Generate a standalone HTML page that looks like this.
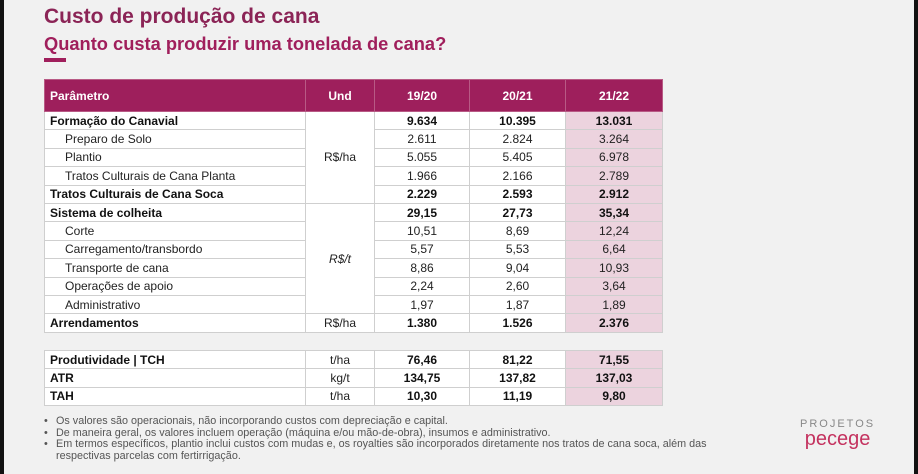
<!DOCTYPE html>
<html><head><meta charset="utf-8"><style>
body{margin:0;width:918px;height:474px;overflow:hidden;background:#f1f1f1;font-family:"Liberation Sans","DejaVu Sans",sans-serif;position:relative}
.edgeL{position:absolute;left:0;top:0;width:4px;height:474px;background:#111}
.edgeR{position:absolute;right:0;top:0;width:4px;height:474px;background:#111}
h1{position:absolute;left:44px;top:5px;margin:0;font-size:21px;color:#8b2456;font-weight:bold}
h2{position:absolute;left:44px;top:33px;margin:0;font-size:18.3px;color:#a01f5c;font-weight:bold}
.bar{position:absolute;left:44px;top:58px;width:22px;height:4px;background:#a01f5c}
table{position:absolute;left:44px;border-collapse:collapse;font-size:12px;color:#222;table-layout:fixed}
td,th{border:1px solid #cfcfcf;padding:0 5px;height:17.4px;background:#fff;white-space:nowrap;overflow:hidden}
th{background:#9e1f5c;color:#fff;height:31px;border-color:#b85a85;font-size:12px}
th.l{text-align:left}
td.c{text-align:center}
td.p{background:#ecd3de}
.b{font-weight:bold;color:#111}
.i{padding-left:20px}
.notes{position:absolute;left:44px;top:416px;font-size:10.8px;color:#555;line-height:11.5px}
.notes div{padding-left:12px;position:relative}
.notes div span{position:absolute;left:0}
.logo{position:absolute;left:800px;top:417px;text-align:center;line-height:15px}
</style></head><body>
<div class="edgeL"></div><div class="edgeR"></div>
<h1>Custo de produção de cana</h1>
<h2>Quanto custa produzir uma tonelada de cana?</h2>
<div class="bar"></div>
<table style="top:79px;width:618px">
<colgroup><col style="width:261px"><col style="width:69px"><col style="width:95px"><col style="width:96px"><col style="width:97px"></colgroup>
<tr><th class="l">Parâmetro</th><th>Und</th><th>19/20</th><th>20/21</th><th>21/22</th></tr>
<tr><td class="b">Formação do Canavial</td><td class="c" rowspan="5">R$/ha</td><td class="c b">9.634</td><td class="c b">10.395</td><td class="c b p">13.031</td></tr>
<tr><td class="i">Preparo de Solo</td><td class="c">2.611</td><td class="c">2.824</td><td class="c p">3.264</td></tr>
<tr><td class="i">Plantio</td><td class="c">5.055</td><td class="c">5.405</td><td class="c p">6.978</td></tr>
<tr><td class="i">Tratos Culturais de Cana Planta</td><td class="c">1.966</td><td class="c">2.166</td><td class="c p">2.789</td></tr>
<tr><td class="b">Tratos Culturais de Cana Soca</td><td class="c b">2.229</td><td class="c b">2.593</td><td class="c b p">2.912</td></tr>
<tr><td class="b">Sistema de colheita</td><td class="c" rowspan="6"><i>R$/t</i></td><td class="c b">29,15</td><td class="c b">27,73</td><td class="c b p">35,34</td></tr>
<tr><td class="i">Corte</td><td class="c">10,51</td><td class="c">8,69</td><td class="c p">12,24</td></tr>
<tr><td class="i">Carregamento/transbordo</td><td class="c">5,57</td><td class="c">5,53</td><td class="c p">6,64</td></tr>
<tr><td class="i">Transporte de cana</td><td class="c">8,86</td><td class="c">9,04</td><td class="c p">10,93</td></tr>
<tr><td class="i">Operações de apoio</td><td class="c">2,24</td><td class="c">2,60</td><td class="c p">3,64</td></tr>
<tr><td class="i">Administrativo</td><td class="c">1,97</td><td class="c">1,87</td><td class="c p">1,89</td></tr>
<tr><td class="b">Arrendamentos</td><td class="c">R$/ha</td><td class="c b">1.380</td><td class="c b">1.526</td><td class="c b p">2.376</td></tr>
</table>
<table style="top:350px;width:618px">
<colgroup><col style="width:261px"><col style="width:69px"><col style="width:95px"><col style="width:96px"><col style="width:97px"></colgroup>
<tr><td class="b">Produtividade | TCH</td><td class="c">t/ha</td><td class="c b">76,46</td><td class="c b">81,22</td><td class="c b p">71,55</td></tr>
<tr><td class="b">ATR</td><td class="c">kg/t</td><td class="c b">134,75</td><td class="c b">137,82</td><td class="c b p">137,03</td></tr>
<tr><td class="b">TAH</td><td class="c">t/ha</td><td class="c b">10,30</td><td class="c b">11,19</td><td class="c b p">9,80</td></tr>
</table>
<div class="notes">
<div><span>•</span>Os valores são operacionais, não incorporando custos com depreciação e capital.</div>
<div><span>•</span>De maneira geral, os valores incluem operação (máquina e/ou mão-de-obra), insumos e administrativo.</div>
<div><span>•</span>Em termos específicos, plantio inclui custos com mudas e, os royalties são incorporados diretamente nos tratos de cana soca, além das<br>respectivas parcelas com fertirrigação.</div>
</div>
<div class="logo"><div style="font-size:11px;letter-spacing:2px;color:#888">PROJETOS</div><div style="font-size:20px;color:#c4325f">pecege</div></div>
</body></html>
